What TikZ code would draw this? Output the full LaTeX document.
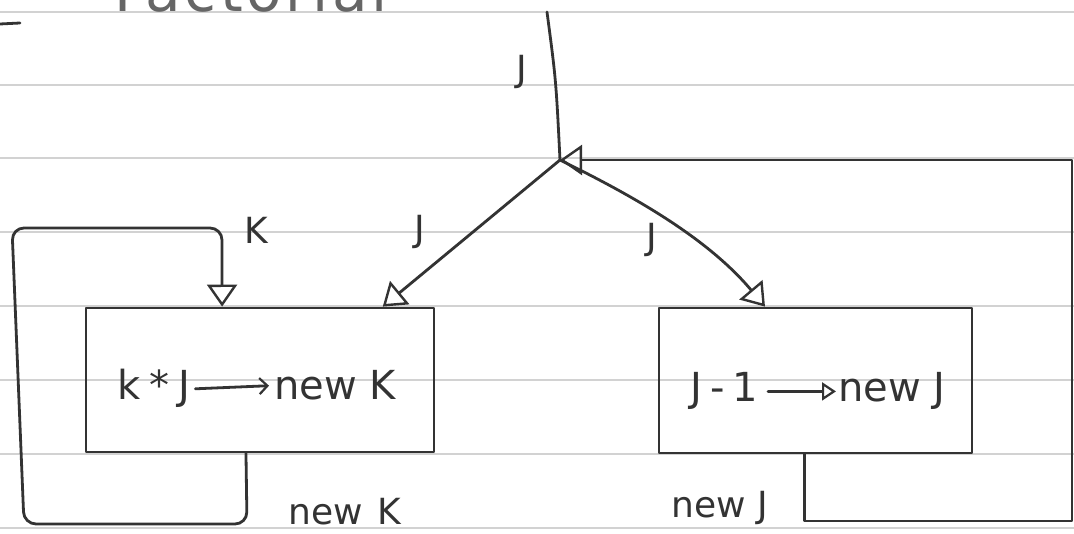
\documentclass[tikz,border=0pt]{standalone}
\usepackage{fontspec}
\setmainfont{DejaVu Sans}
\usetikzlibrary{arrows.meta,calc}
\definecolor{ink}{HTML}{333333}
\definecolor{ruling}{HTML}{D2D2D2}
\begin{document}
\begin{tikzpicture}[x=1pt,y=-1pt,
  pen/.style={draw=ink,line width=2.8pt,line join=round,line cap=round},
  opentip/.style={-{Triangle[open,length=22pt,width=30pt,line width=2.4pt]}},
  procbox/.style={pen,rectangle,inner sep=0pt},
  lbl/.style={text=ink,inner sep=0pt,font=\fontsize{36}{36}\selectfont},
  boxtext/.style={text=ink,inner sep=0pt,anchor=base west,font=\fontsize{40}{40}\selectfont}]
\useasboundingbox (0,0) rectangle (1074,534);
\fill[white] (0,0) rectangle (1074,534);

% ruled paper
\foreach \ry in {12,85,158,232,306,380,454,528}
  \draw[ruling,line width=2.4pt] (0,\ry) -- (1074,\ry);

% heading, cut by the top edge
\node[anchor=base west,inner sep=0pt,text=ink!75,font=\fontsize{58}{58}\selectfont\addfontfeature{LetterSpace=6}] (title) at (114,12) {Factorial};
\draw[pen] (0,24) -- (20,23);

% process boxes
\node[procbox,minimum width=348pt,minimum height=144pt] (boxK) at (260,380) {};
\node[procbox,minimum width=313pt,minimum height=145pt] (boxJ) at (815.5,380.5) {};

\node[boxtext] (kexpr) at (117,400) {k\hspace{9pt}*\hspace{9pt}J};
\node[boxtext] (knew) at (274,400) {new K};
\draw[pen,-{Straight Barb[length=8pt,width=16pt,line width=2.2pt]}] ([xshift=5pt]kexpr.east) -- ([xshift=-5pt]knew.west);

\node[boxtext] (jexpr) at (690,402) {J\hspace{8pt}-\hspace{8pt}1};
\node[boxtext] (jnew) at (838,402) {new J};
\draw[pen,-{Triangle[open,length=14pt,width=18pt,line width=2.2pt]}] ([xshift=10pt]jexpr.east) -- ([xshift=-2pt]jnew.west);

% junction and ports
\coordinate (src) at (547,12);
\coordinate (jn) at (560,160);
\coordinate (kin) at ($(boxK.north west)!0.85!(boxK.north east)$);
\coordinate (kdown) at ($(boxK.north west)!0.392!(boxK.north east)$);
\coordinate (kout) at ($(boxK.south west)!0.46!(boxK.south east)$);
\coordinate (jin) at ($(boxJ.north west)!0.34!(boxJ.north east)$);
\coordinate (jout) at ($(boxJ.south west)!0.466!(boxJ.south east)$);

% connectors
\draw[pen] (src) .. controls (556,80) .. (jn);
\draw[pen,opentip] (jn) -- (kin);
\draw[pen,opentip] (jn) .. controls (625,192) and (705,235) .. (jin);
\draw[pen,opentip,rounded corners=12pt] (kout) -- (247,524) -- (24,524) -- (12,228) -- (222,228) -- (kdown);
\draw[pen,opentip] (jout) |- (1072,521) |- (jn);

% labels
\node[lbl] (lJtop) at (522,72) {J};
\node[lbl] (lJl) at (420,232) {J};
\node[lbl] (lJr) at (652,240) {J};
\node[lbl] (lK) at (256,230) {K};
\node[lbl] (lnK) at (345,512) {new\hspace{14pt}K};
\node[lbl] (lnJ) at (720,508) {new J};
\end{tikzpicture}
\end{document}
